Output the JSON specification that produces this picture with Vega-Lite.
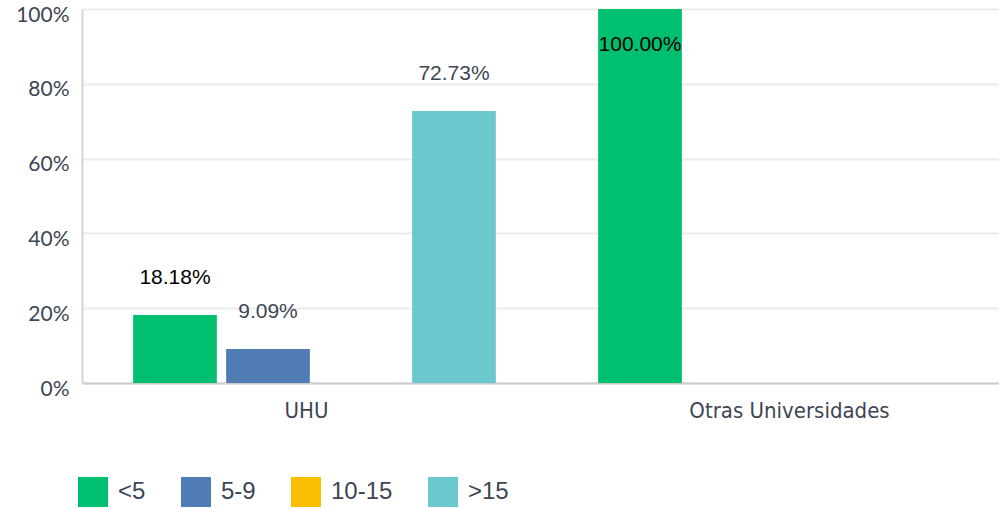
{
  "$schema": "https://vega.github.io/schema/vega-lite/v6.json",
  "width": 930,
  "height": 374,
  "autosize": {"type": "none"},
  "padding": {"left": 82, "top": 9, "right": 0, "bottom": 126},
  "background": "white",
  "config": {"view": {"stroke": null}},
  "data": {
    "values": [
      {"uni": "UHU", "age": "<5", "pct": 18.18},
      {"uni": "UHU", "age": "5-9", "pct": 9.09},
      {"uni": "UHU", "age": "10-15", "pct": 0},
      {"uni": "UHU", "age": ">15", "pct": 72.73},
      {"uni": "Otras Universidades", "age": "<5", "pct": 100},
      {"uni": "Otras Universidades", "age": "5-9", "pct": 0},
      {"uni": "Otras Universidades", "age": "10-15", "pct": 0},
      {"uni": "Otras Universidades", "age": ">15", "pct": 0}
    ]
  },
  "encoding": {
    "x": {
      "field": "uni",
      "type": "nominal",
      "sort": ["UHU", "Otras Universidades"],
      "scale": {"paddingInner": 0, "paddingOuter": 0},
      "axis": {
        "title": null,
        "labelAngle": 0,
        "labelLimit": 0,
        "domain": true,
        "domainColor": "#cccccc",
        "domainWidth": 2,
        "ticks": false,
        "labelFont": "DejaVu Sans Condensed",
        "labelFontSize": 22,
        "labelColor": "#3d4654",
        "labelPadding": 17,
        "labelOffset": {"condition": {"test": "datum.value == 'UHU'", "value": -8}, "value": 10}
      }
    },
    "xOffset": {
      "field": "age",
      "type": "nominal",
      "sort": ["<5", "5-9", "10-15", ">15"],
      "scale": {"paddingInner": 0.1, "paddingOuter": 0.55}
    }
  },
  "layer": [
    {
      "mark": {"type": "bar"},
      "encoding": {
        "y": {
          "field": "pct",
          "type": "quantitative",
          "scale": {"domain": [0, 100], "nice": false},
          "axis": {
            "title": null,
            "values": [0, 10, 20, 30, 40, 50, 60, 70, 80, 90, 100],
            "labelExpr": "datum.value % 20 == 0 ? datum.value + '%' : ''",
            "grid": true,
            "gridColor": "#ebebeb",
            "gridWidth": 2,
            "ticks": false,
            "domain": true,
            "domainColor": "#d4d4d4",
            "domainWidth": 2,
            "labelFont": "Lato",
            "labelFontSize": 21,
            "labelColor": "#3d4654",
            "labelPadding": 13,
            "labelOffset": 6
          }
        },
        "color": {
          "field": "age",
          "type": "nominal",
          "sort": ["<5", "5-9", "10-15", ">15"],
          "scale": {
            "domain": ["<5", "5-9", "10-15", ">15"],
            "range": ["#00BF6F", "#507CB6", "#F9BE00", "#6BC8CD"]
          },
          "legend": {
            "title": null,
            "orient": "none",
            "direction": "horizontal",
            "legendX": -4,
            "legendY": 468,
            "symbolType": "square",
            "symbolSize": 900,
            "symbolStrokeWidth": 0,
            "symbolOpacity": 1,
            "labelFont": "Liberation Sans",
            "labelFontSize": 24,
            "labelColor": "#3d4654",
            "labelOffset": 10,
            "columnPadding": 35
          }
        }
      }
    },
    {
      "transform": [
        {"filter": "datum.pct > 0"},
        {"calculate": "min(datum.pct + 10, 90.5)", "as": "labelPos"},
        {"calculate": "format(datum.pct, '.2f') + '%'", "as": "labelText"}
      ],
      "mark": {"type": "text", "font": "Liberation Sans", "fontSize": 21, "baseline": "middle"},
      "encoding": {
        "y": {"field": "labelPos", "type": "quantitative", "scale": {"domain": [0, 100], "nice": false}},
        "text": {"field": "labelText", "type": "nominal"},
        "color": {
          "condition": {"test": "datum.age == '<5'", "value": "#000000"},
          "value": "#3d4654"
        }
      }
    }
  ]
}
